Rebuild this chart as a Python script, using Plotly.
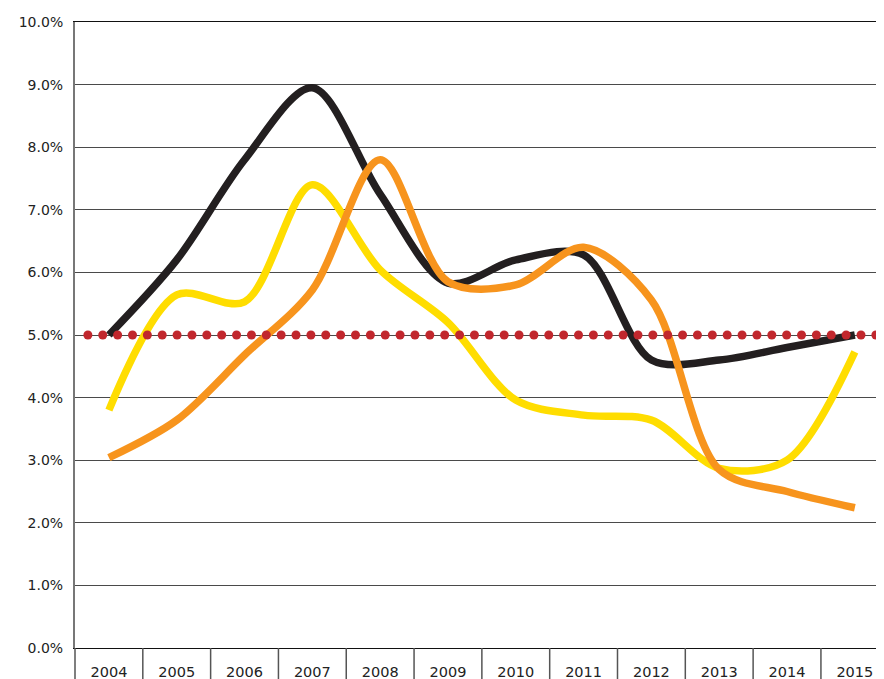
import numpy as np
import plotly.graph_objects as go

years = ["2004", "2005", "2006", "2007", "2008", "2009", "2010", "2011", "2012", "2013", "2014", "2015"]
black_vals = [5.0, 6.2, 7.8, 8.95, 7.25, 5.83, 6.2, 6.28, 4.6, 4.6, 4.8, 5.0]
yellow_vals = [3.8, 5.64, 5.53, 7.4, 6.04, 5.2, 3.96, 3.72, 3.64, 2.87, 3.0, 4.73]
orange_vals = [3.04, 3.64, 4.68, 5.72, 7.8, 5.85, 5.8, 6.4, 5.56, 2.85, 2.5, 2.24]
target_val = 5.0
target_span = [-0.31, 11.31]
target_count = 54

xs = list(range(len(years)))
x_range = [-0.5, 11.43]

fig = go.Figure()
line_w = 7.5
for vals, col in [(black_vals, "#231f20"), (yellow_vals, "#ffdd00"), (orange_vals, "#f7941d")]:
    fig.add_trace(go.Scatter(x=xs, y=vals, mode="lines",
                             line=dict(color=col, width=line_w, shape="spline", smoothing=0.9),
                             hoverinfo="skip", showlegend=False))

tx = np.linspace(target_span[0], target_span[1], target_count)
fig.add_trace(go.Scatter(x=tx, y=[target_val] * len(tx), mode="markers",
                         marker=dict(color="#c1272d", size=9, line=dict(width=0)),
                         hoverinfo="skip", showlegend=False))

shapes = []
span = x_range[1] - x_range[0]
for i in range(len(years) + 1):
    b = i - 0.5
    px = (b - x_range[0]) / span
    if 0 <= px <= 1:
        shapes.append(dict(type="line", xref="paper", yref="paper", x0=px, x1=px, y0=0, y1=-0.06,
                           line=dict(color="#555555", width=1.5)))

fig.update_layout(
    width=876, height=671,
    margin=dict(l=67, r=0, t=14, b=31),
    plot_bgcolor="white", paper_bgcolor="white",
    font=dict(family="DejaVu Sans, Liberation Sans, sans-serif", size=14, color="#222222"),
    shapes=shapes,
    xaxis=dict(range=x_range, tickvals=xs, ticktext=years, showgrid=False, zeroline=False,
               showline=True, linecolor="#111111", linewidth=1.2, mirror=True, ticks="",
               ticklabelstandoff=10, tickfont=dict(size=14.5), fixedrange=True),
    yaxis=dict(range=[0, 10], dtick=1, tickformat=".1f", ticksuffix="%", showgrid=True,
               gridcolor="#4a4a4a", gridwidth=1.2, zeroline=False, showline=True,
               linecolor="#777777", linewidth=2, ticks="", ticklabelstandoff=7, fixedrange=True),
)

fig.write_html("out.html")
